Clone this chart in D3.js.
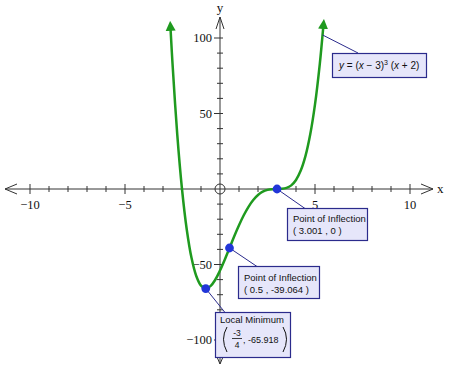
<!DOCTYPE html>
<html>
<head>
<meta charset="utf-8">
<script src="https://cdn.jsdelivr.net/npm/d3@7"></script>
<style>
  body { margin: 0; background: #fff; }
  svg { display: block; }
</style>
</head>
<body>
<div id="chart"></div>
<script>
const W = 450, H = 366;

// curve samples
const curveX = [-2.6, -2.5, -2.25, -2, -1.75, -1.5, -1.25, -1, -0.75, -0.5, -0.25, 0, 0.25, 0.5, 0.75, 1, 1.25, 1.5, 1.75, 2, 2.25, 2.5, 2.75, 3, 3.25, 3.5, 3.75, 4, 4.25, 4.5, 4.75, 5, 5.25, 5.43];
const curveY = [105.4, 83.2, 36.2, 0, -26.8, -45.6, -57.6, -64, -65.9, -64.3, -60.1, -54, -46.8, -39.1, -31.3, -24, -17.4, -11.8, -7.3, -4, -1.8, -0.6, -0.1, 0, 0.1, 0.7, 2.4, 6, 12.2, 21.9, 36.2, 56, 82.6, 106.6];

// marked points
const ptX = [3.001, 0.5, -0.75];
const ptY = [0, -39.064, -65.918];

const xTicks = [-10, -5, 5, 10];
const yTicks = [100, 50, -50, -100];

const margin = { left: 30, right: 40, top: 38, bottom: 26 };

const x = d3.scaleLinear().domain([-10, 10]).range([margin.left, W - margin.right]);
const y = d3.scaleLinear().domain([-100, 100]).range([H - margin.bottom, margin.top]);

const svg = d3.select("#chart").append("svg")
    .attr("width", W)
    .attr("height", H);

const axisCol = "#333";
const x0 = x(0), y0 = y(0);

// axes lines
svg.append("line").attr("x1", 5).attr("x2", 433).attr("y1", y0).attr("y2", y0)
    .attr("stroke", axisCol);
svg.append("line").attr("x1", x0).attr("x2", x0).attr("y1", 17).attr("y2", 364)
    .attr("stroke", axisCol);

// arrow chevrons
const chev = [
    [[17, y0 - 5], [5, y0], [17, y0 + 5]],
    [[421, y0 - 5], [433, y0], [421, y0 + 5]],
    [[x0 - 4, 29], [x0, 17], [x0 + 4, 29]],
    [[x0 - 3, 357], [x0, 364], [x0 + 3, 357]]
];
chev.forEach(c => {
    svg.append("path").attr("d", d3.line()(c))
        .attr("fill", "none").attr("stroke", axisCol).attr("stroke-width", 1);
});

// ticks
d3.range(-10, 11).filter(v => v !== 0).forEach(v => {
    const big = v % 5 === 0;
    svg.append("line")
        .attr("x1", x(v)).attr("x2", x(v))
        .attr("y1", y0 - (big ? 5 : 3)).attr("y2", y0 + (big ? 5 : 3))
        .attr("stroke", axisCol);
});
d3.range(-110, 101, 10).filter(v => v !== 0).forEach(v => {
    const big = v % 50 === 0;
    svg.append("line")
        .attr("x1", x0 - (big ? 6 : 3)).attr("x2", x0 + 3)
        .attr("y1", y(v)).attr("y2", y(v))
        .attr("stroke", axisCol);
});

const serif = "'Liberation Serif', 'Times New Roman', serif";

svg.selectAll(".xt").data(xTicks).enter().append("text")
    .attr("x", d => x(d)).attr("y", y0 + 20)
    .attr("text-anchor", "middle")
    .style("font-family", serif).style("font-size", "12.5px").attr("fill", "#111")
    .text(d => d < 0 ? "\u2212" + Math.abs(d) : d);

svg.selectAll(".yt").data(yTicks).enter().append("text")
    .attr("x", x0 - 8).attr("y", d => y(d) + 4)
    .attr("text-anchor", "end")
    .style("font-family", serif).style("font-size", "12.5px").attr("fill", "#111")
    .text(d => d < 0 ? "\u2212" + Math.abs(d) : d);

svg.append("text").attr("x", 437).attr("y", y0 + 4)
    .style("font-family", serif).style("font-size", "13px").attr("fill", "#111").text("x");
svg.append("text").attr("x", x0).attr("y", 12).attr("text-anchor", "middle")
    .style("font-family", serif).style("font-size", "13px").attr("fill", "#111").text("y");

// origin circle
svg.append("circle").attr("cx", x0).attr("cy", y0).attr("r", 5)
    .attr("fill", "none").attr("stroke", axisCol);

// curve
const green = "#1f9a1f";
const defs = svg.append("defs");
defs.append("marker")
    .attr("id", "arr")
    .attr("viewBox", "0 0 10 10")
    .attr("refX", 1).attr("refY", 5)
    .attr("markerWidth", 4).attr("markerHeight", 4.4)
    .attr("markerUnits", "strokeWidth")
    .attr("orient", "auto-start-reverse")
    .append("path").attr("d", "M0,0 L10,5 L0,10 Z").attr("fill", green);

const curveData = curveX.map((v, i) => [v, curveY[i]]);
svg.append("path")
    .datum(curveData)
    .attr("fill", "none")
    .attr("stroke", green)
    .attr("stroke-width", 2.5)
    .attr("marker-start", "url(#arr)")
    .attr("marker-end", "url(#arr)")
    .attr("d", d3.line().x(d => x(d[0])).y(d => y(d[1])).curve(d3.curveCatmullRom));

// callouts
const navy = "#2b2b8c";
const boxFill = "#e6e6fa";
const sans = "'Liberation Sans', Arial, sans-serif";

function leader(x1, y1, x2, y2) {
    svg.append("line").attr("x1", x1).attr("y1", y1).attr("x2", x2).attr("y2", y2)
        .attr("stroke", navy).attr("stroke-width", 1);
}
function box(bx, by, bw, bh) {
    svg.append("rect").attr("x", bx).attr("y", by).attr("width", bw).attr("height", bh)
        .attr("fill", boxFill).attr("stroke", navy).attr("stroke-width", 1.2);
}
function label(tx, ty, str, size) {
    return svg.append("text").attr("x", tx).attr("y", ty)
        .style("font-family", sans).style("font-size", (size || 9.5) + "px").attr("fill", "#111")
        .text(str);
}

// equation
leader(x(5.4), y(102), 358, 53);
box(332.5, 53.5, 94, 24);
const eq = svg.append("text").attr("x", 339).attr("y", 69)
    .style("font-family", sans).style("font-size", "10px").attr("fill", "#111");
eq.append("tspan").style("font-style", "italic").text("y");
eq.append("tspan").text(" = (");
eq.append("tspan").style("font-style", "italic").text("x");
eq.append("tspan").text(" \u2212 3)");
eq.append("tspan").attr("dy", -4).style("font-size", "7px").text("3");
eq.append("tspan").attr("dy", 4).text(" (");
eq.append("tspan").style("font-style", "italic").text("x");
eq.append("tspan").text(" + 2)");

// inflection (3.001, 0)
leader(x(ptX[0]), y(ptY[0]), 305, 208.5);
box(287.5, 208.5, 80, 32);
label(293, 222, "Point of Inflection");
label(293, 234, "( 3.001 , 0 )");

// inflection (0.5, -39.064)
leader(x(ptX[1]), y(ptY[1]), 257, 266.5);
box(238.5, 266.5, 81, 32);
label(244, 281, "Point of Inflection");
label(244, 293, "( 0.5 , -39.064 )");

// local minimum
leader(x(ptX[2]), y(ptY[2]), 225, 312.5);
box(215.5, 312.5, 75, 45);
label(220, 323, "Local Minimum");
svg.append("path").attr("d", "M227,327 Q220,339 227,352")
    .attr("fill", "none").attr("stroke", "#111").attr("stroke-width", 1);
svg.append("path").attr("d", "M283,327 Q290,339 283,352")
    .attr("fill", "none").attr("stroke", "#111").attr("stroke-width", 1);
svg.append("text").attr("x", 237).attr("y", 335.5).attr("text-anchor", "middle")
    .style("font-family", sans).style("font-size", "8.5px").attr("fill", "#111").text("-3");
svg.append("line").attr("x1", 232).attr("x2", 242).attr("y1", 338.5).attr("y2", 338.5)
    .attr("stroke", "#111").attr("stroke-width", 0.8);
svg.append("text").attr("x", 237).attr("y", 348).attr("text-anchor", "middle")
    .style("font-family", sans).style("font-size", "8.5px").attr("fill", "#111").text("4");
label(243, 343, ", -65.918", 9);

// points
svg.selectAll(".pt").data(ptX).enter().append("circle")
    .attr("cx", d => x(d)).attr("cy", (d, i) => y(ptY[i]))
    .attr("r", 4.4)
    .attr("fill", "#2236d8");
</script>
</body>
</html>
